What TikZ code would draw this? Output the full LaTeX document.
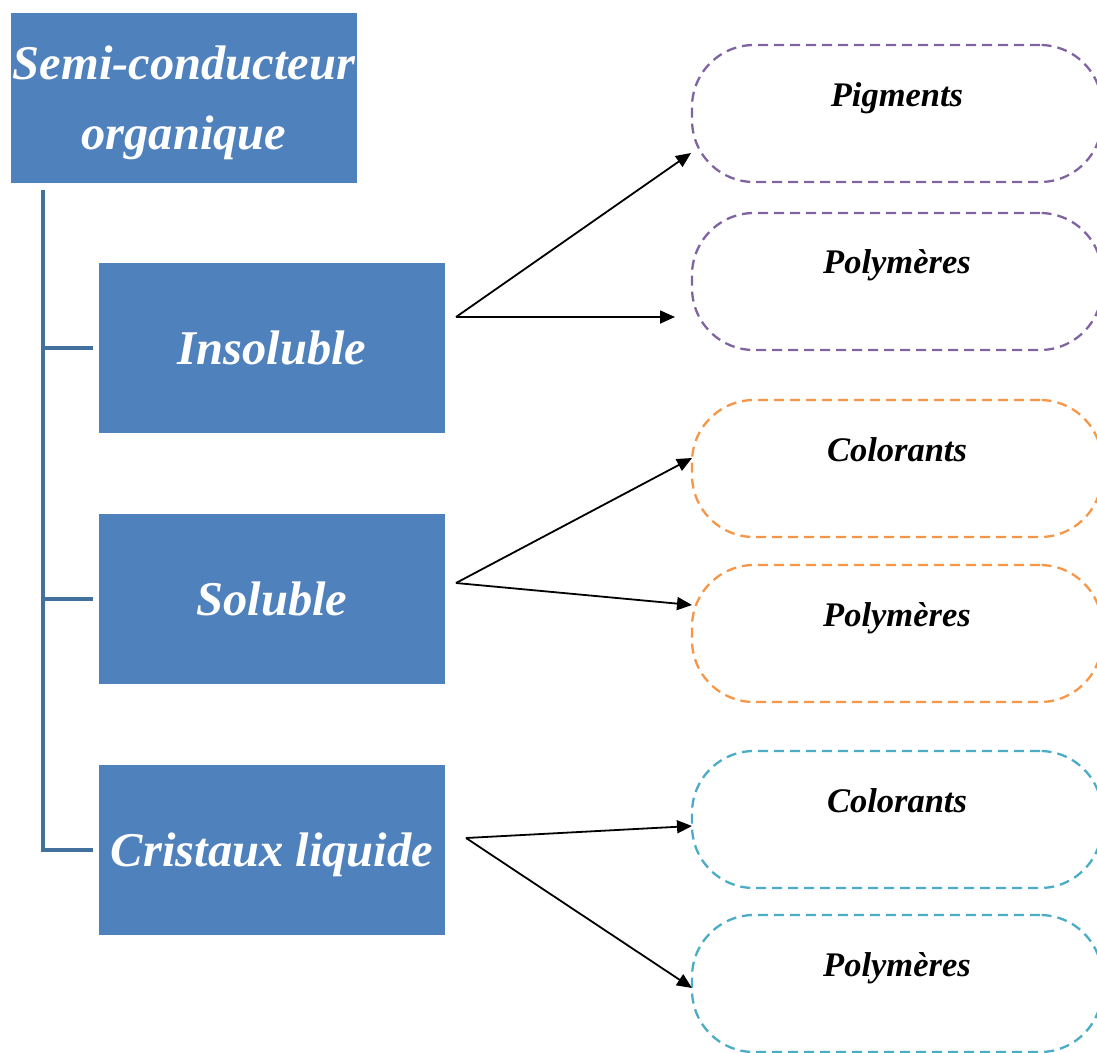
\documentclass[tikz,border=0pt]{standalone}
\usepackage{fontspec}
\setmainfont{Liberation Serif}
\usetikzlibrary{arrows.meta}
\definecolor{boxblue}{HTML}{4F81BD}
\definecolor{treeblue}{HTML}{41719C}
\definecolor{cpurple}{HTML}{8064A2}
\definecolor{corange}{HTML}{F79646}
\definecolor{cteal}{HTML}{4BACC6}
\tikzset{
  bluebox/.style={fill=boxblue, draw=none, text=white, minimum width=346pt, minimum height=170pt, inner sep=0pt,
    font=\fontsize{48.5}{70}\selectfont\bfseries\itshape, text depth=0pt, align=center},
  pill/.style={draw=#1, line width=2.3pt, dash pattern=on 10pt off 6pt, rounded corners=62pt,
    minimum width=410pt, minimum height=137pt, inner sep=0pt},
  lbl/.style={anchor=base, font=\fontsize{34.5}{40}\selectfont\bfseries\itshape, inner sep=0pt},
  tree/.style={draw=treeblue, line width=4pt},
  arr/.style={draw=black, line width=1.8pt, -{Triangle[length=15pt,width=13pt]}}
}
\begin{document}
\begin{tikzpicture}[x=1pt,y=1pt]
\useasboundingbox (0,0) rectangle (1097,-1052);
\clip (0,0) rectangle (1097,-1052);
% left boxes
\node[bluebox] (top) at (184,-98) {Semi-conducteur\\organique};
\node[bluebox] (ins) at (272,-348) {Insoluble};
\node[bluebox] (sol) at (272,-599) {Soluble};
\node[bluebox] (cri) at (272,-850) {Cristaux liquide};
% tree
\coordinate (trunk) at (43,-190);
\draw[tree] (trunk) |- ([xshift=-6pt]cri.west);
\draw[tree] (trunk |- ins.west) -- ([xshift=-6pt]ins.west);
\draw[tree] (trunk |- sol.west) -- ([xshift=-6pt]sol.west);
% pills
\node[pill=cpurple] (p1) at (897,-113.5) {};
\node[pill=cpurple] (p2) at (897,-281.5) {};
\node[pill=corange] (p3) at (897,-468.5) {};
\node[pill=corange] (p4) at (897,-633.5) {};
\node[pill=cteal] (p5) at (897,-819.5) {};
\node[pill=cteal] (p6) at (897,-983.5) {};
\node[lbl] (t1) at (897,-106) {Pigments};
\node[lbl] (t2) at (897,-273) {Polymères};
\node[lbl] (t3) at (897,-461) {Colorants};
\node[lbl] (t4) at (897,-626) {Polymères};
\node[lbl] (t5) at (897,-812) {Colorants};
\node[lbl] (t6) at (897,-976) {Polymères};
% arrows
\coordinate (s1) at (456,-317);
\coordinate (s2) at (456,-583);
\coordinate (s3) at (466,-838);
\coordinate (e1) at (691,-153);
\coordinate (e2) at (675,-317);
\coordinate (e3) at (692,-458);
\coordinate (e4) at (692,-605);
\coordinate (e5) at (692,-826);
\coordinate (e6) at (692,-988);
\draw[arr] (s1) -- (e1);
\draw[arr] (s1) -- (e2);
\draw[arr] (s2) -- (e3);
\draw[arr] (s2) -- (e4);
\draw[arr] (s3) -- (e5);
\draw[arr] (s3) -- (e6);
\end{tikzpicture}
\end{document}
